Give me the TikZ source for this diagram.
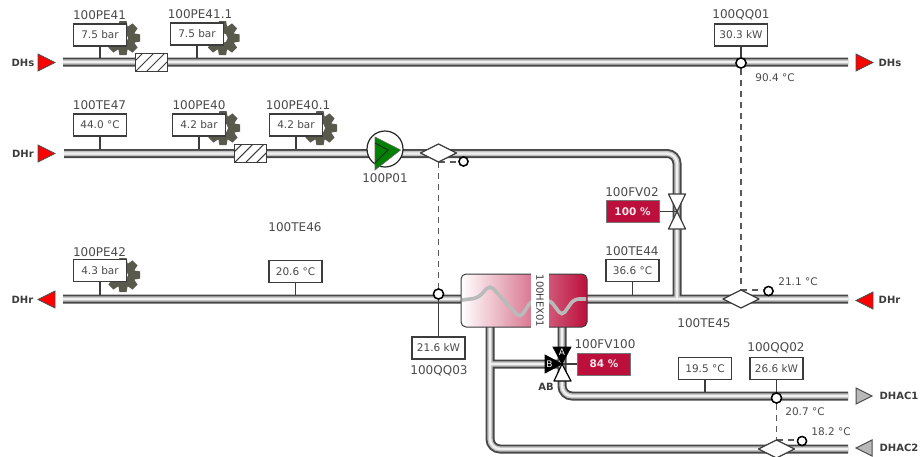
\documentclass[tikz,border=0pt]{standalone}
\usepackage{fontspec}
\setmainfont{DejaVu Sans}
\definecolor{txt}{HTML}{4A4A4A}
\definecolor{edge}{HTML}{3C3C3C}
\definecolor{crim}{HTML}{BC0F3C}
\definecolor{gearc}{HTML}{5A5A4C}
\tikzset{
  x=1pt,y=-1pt,
  lab/.style={text=txt,font=\fontsize{12}{12}\selectfont,inner sep=0pt},
  small/.style={text=txt,font=\fontsize{10.5}{11}\selectfont,inner sep=0pt},
  valbox/.style={draw=edge,line width=1.2pt,fill=white,text=txt,minimum width=53pt,minimum height=22pt,inner sep=0pt,font=\fontsize{10.5}{11}\selectfont},
  redbox/.style={draw=edge!70,line width=1pt,fill=crim,text=white!90!crim,minimum width=53pt,minimum height=22pt,inner sep=0pt,font=\bfseries\fontsize{10.5}{11}\selectfont},
  stem/.style={draw=edge,line width=1.2pt},
  dashline/.style={draw=edge!85,line width=1.3pt,dash pattern=on 6pt off 5pt},
  ring/.style={circle,draw=black,line width=1.4pt,fill=white,minimum size=10pt,inner sep=0pt},
  dmd/.style={draw=edge,line width=1.2pt,fill=white,line join=round},
  hatchline/.style={draw=edge,line width=1.05pt},
  ends/.style={font=\bfseries\fontsize{10}{10}\selectfont,text=edge,inner sep=0pt},
  flag/.style={draw=black!70,line width=.8pt,fill=red,line join=miter},
  gflag/.style={draw=black!70,line width=1pt,fill=black!28},
  gear/.pic={
    \fill[gearc] (0,0) circle (12.5);
    \foreach \a in {0,45,...,315}{
      \fill[gearc,rotate=\a] (-3.6,-17) -- (3.6,-17) -- (4.8,-10) -- (-4.8,-10) -- cycle;
    }
    \fill[white] (0,0) circle (5);
  },
  pA/.style={draw=black!72,line width=9pt,rounded corners=10pt},
  pB/.style={draw=black!24,line width=5.2pt,rounded corners=10pt},
  pC/.style={draw=black!6,line width=2.4pt,rounded corners=10pt},
}
\begin{document}
\begin{tikzpicture}
\useasboundingbox (0,0) rectangle (921,456);
% anchor coordinates on the pipes
\coordinate (a1) at (63,62);   \coordinate (a2) at (848,62);
\coordinate (b1) at (64,153.5);\coordinate (b2) at (677,153.5);
\coordinate (c1) at (63,299);  \coordinate (c2) at (848,299);
\coordinate (cT) at (677,299);
\coordinate (h1) at (490,327); \coordinate (h2) at (490,449); \coordinate (h3) at (848,449);
\coordinate (hb) at (490,364); \coordinate (vc) at (562,364);
\coordinate (j1) at (562,327); \coordinate (j2) at (562,396); \coordinate (j3) at (848,396);
\def\pipepaths{(a1) -- (a2) (b1) -- (b2) -- (cT) (c1) -- (c2) (h1) -- (h2) -- (h3) (hb) -- (vc) (j1) -- (j2) -- (j3)}
% gears
\pic at (123,38) {gear};
\pic at (222.5,38) {gear};
\pic at (223,128) {gear};
\pic at (320,128) {gear};
\pic at (123,275) {gear};
% instrument boxes
\node[valbox] (pe41) at (100,35) {7.5 bar};
\node[lab] (pe41l) at (99.5,15) {100PE41};
\node[valbox] (pe411) at (197,34) {7.5 bar};
\node[lab] (pe411l) at (200,14) {100PE41.1};
\node[valbox] (te47) at (100,125) {44.0 °C};
\node[lab] (te47l) at (99.5,105) {100TE47};
\node[valbox] (pe40) at (199,125) {4.2 bar};
\node[lab] (pe40l) at (199,105) {100PE40};
\node[valbox] (pe401) at (296,125) {4.2 bar};
\node[lab] (pe401l) at (298,105) {100PE40.1};
\node[valbox] (pe42) at (100,270.5) {4.3 bar};
\node[lab] (pe42l) at (99.5,252) {100PE42};
\node[valbox] (te46) at (295.5,271.5) {20.6 °C};
\node[lab] (te46l) at (295,227) {100TE46};
\node[valbox] (te44) at (632.5,270.5) {36.6 °C};
\node[lab] (te44l) at (632,251) {100TE44};
\node[valbox] (qq01) at (741,35) {30.3 kW};
\node[lab] (qq01l) at (741,15) {100QQ01};
\node[valbox] (qq03) at (438.5,348) {21.6 kW};
\node[lab] (qq03l) at (439,371) {100QQ03};
\node[valbox] (te45) at (705,368.5) {19.5 °C};
\node[lab] (te45l) at (704,323) {100TE45};
\node[valbox] (qq02) at (776.5,368.5) {26.6 kW};
\node[lab] (qq02l) at (776,348) {100QQ02};
\node[redbox] (fv02) at (632.5,211.5) {100 \%};
\node[lab] (fv02l) at (632,192) {100FV02};
\node[redbox] (fv100) at (604,364) {84 \%};
\node[lab] (fv100l) at (605,344) {100FV100};
% stems to the pipes (the pipes cover their ends)
\draw[stem] (pe41.south) -- (pe41.south |- a1);
\draw[stem] (pe411.south) -- (pe411.south |- a1);
\draw[stem] (te47.south) -- (te47.south |- b1);
\draw[stem] (pe40.south) -- (pe40.south |- b1);
\draw[stem] (pe401.south) -- (pe401.south |- b1);
\draw[stem] (pe42.south) -- (pe42.south |- c1);
\draw[stem] (te46.south) -- (te46.south |- c1);
\draw[stem] (te44.south) -- (te44.south |- c1);
\draw[stem] (te45.south) -- (te45.south |- j3);
% pipes
\draw[pA] \pipepaths;
\draw[pB] \pipepaths;
\draw[pC] \pipepaths;
% hatched boxes
\foreach \xa/\ya/\xb/\yb in {135/53/167/71,234/144/266/162}{
  \fill[white] (\xa,\ya) rectangle (\xb,\yb);
  \begin{scope}
    \clip (\xa,\ya) rectangle (\xb,\yb);
    \foreach \d in {-6,5,...,40}{
      \draw[hatchline] (\xa+\d-4,\yb) -- (\xa+\d+14,\ya);
    }
  \end{scope}
  \draw[draw=edge,line width=1pt] (\xa,\ya) rectangle (\xb,\yb);
}
% pump
\node[circle,draw=black!85,line width=1.2pt,fill=white,minimum size=36pt,inner sep=0pt] (p01) at (385,149) {};
\fill[green!50!black,draw=black!60,line width=.6pt] (375,137) -- (400.5,150) -- (375,170) -- cycle;
\draw[black!85,line width=.9pt] (375,143) -- (388,150) -- (375,163);
\node[lab] (p01l) at (385,178) {100P01};
% diamonds with sensor rings
\node[ring,minimum size=9pt] (r1) at (463.5,161.5) {};
\node[ring,minimum size=9pt] (r2) at (768.5,291) {};
\node[ring,minimum size=9pt] (r3) at (802,441) {};
\node[ring] (q1) at (741,63) {};
\node[ring] (q3) at (438.5,294) {};
\node[ring] (q2) at (776.5,398) {};
\coordinate (d1) at (438.5,153);
\coordinate (d2) at (741,299);
\coordinate (d3) at (776.5,449);
\coordinate (d1b) at (438.5,162);
\coordinate (d2t) at (741,290);
\coordinate (d3t) at (776.5,440);
\draw[dashline] (d1b) -- (q3.north);
\draw[dashline] (q1.south) -- (d2t);
\draw[dashline] (q2.south) -- (d3t);
\draw[dashline] (d1b) -- (d1b -| r1.west);
\draw[dashline] (d2t) -- (d2t -| r2.west);
\draw[dashline] (d3t) -- (d3t -| r3.west);
\foreach \c in {d1,d2,d3}{
  \draw[dmd] (\c) ++(-18,0) -- ++(18,-9) -- ++(18,9) -- ++(-18,9) -- cycle;
}
\node[ring,minimum size=9pt] at (r1) {};
\node[ring,minimum size=9pt] at (r2) {};
\node[ring,minimum size=9pt] at (r3) {};
\draw[stem] (qq01.south) -- (q1.north);
\draw[stem] (qq03.north) -- (q3.south);
\draw[stem] (qq02.south) -- (q2.north);
\node[ring] at (q1) {};
\node[ring] at (q3) {};
\node[ring] at (q2) {};
% free temperatures
\node[small] (t904) at (775,78) {90.4 °C};
\node[small] (t211) at (798,282) {21.1 °C};
\node[small] (t207) at (805,412) {20.7 °C};
\node[small] (t182) at (831,432) {18.2 °C};
% valve FV02
\coordinate (v2) at (677,211.5);
\draw[dmd,fill=white] (v2) -- ++(-8.5,-17.5) -- ++(17,0) -- cycle;
\draw[dmd,fill=white] (v2) -- ++(-8.5,17.5) -- ++(17,0) -- cycle;
\draw[stem] (fv02.east) -- (v2);
% heat exchanger
\shade[left color=white,middle color=crim!60!white,right color=crim,rounded corners=5pt] (461,274) rectangle (587,327);
\draw[draw=edge,line width=1pt,rounded corners=5pt] (461,274) rectangle (587,327);
\draw[draw=black!27,line width=3.6pt,rounded corners=5pt] (462,300) -- (478,298) -- (490,285) -- (520,318) -- (532,300) -- (550,300) -- (562,316) -- (574,299) -- (586,299);
\fill[white] (531,273) rectangle (548.5,328);
\node[rotate=-90,text=edge,inner sep=0pt,font=\fontsize{10}{10}\selectfont] (hex) at (540,301) {100HEX01};
% three-way valve
\draw[stem] (fv100.west) -- (vc);
\draw[draw=black,line width=.8pt,fill=black] (vc) -- (553,347) -- (571,347) -- cycle;
\draw[draw=black,line width=.8pt,fill=black] (vc) -- (545,355) -- (545,373) -- cycle;
\draw[dmd,fill=white,draw=black] (vc) -- (554,381) -- (571,381) -- cycle;
\node[text=white,inner sep=0pt,font=\fontsize{9}{9}\selectfont] (va) at (562,352) {A};
\node[text=white,inner sep=0pt,font=\fontsize{9}{9}\selectfont] (vb) at (549.5,364) {B};
\node[ends] (vab) at (546,387) {AB};
% end flags
\draw[flag] (38,54) -- (55,62.5) -- (38,71) -- cycle;
\draw[flag] (38,145) -- (55,153.5) -- (38,162) -- cycle;
\draw[flag] (55,291) -- (38,299.5) -- (55,308) -- cycle;
\draw[flag] (856,54) -- (873,62.5) -- (856,71) -- cycle;
\draw[flag] (873,292) -- (856,300.5) -- (873,309) -- cycle;
\draw[gflag] (856,388) -- (872,396) -- (856,404) -- cycle;
\draw[gflag] (872,440) -- (856,448) -- (872,456) -- cycle;
\node[ends] (e1) at (23,62.5) {DHs};
\node[ends] (e2) at (23,153.5) {DHr};
\node[ends] (e3) at (22.5,300) {DHr};
\node[ends] (e4) at (890,62.5) {DHs};
\node[ends] (e5) at (889.5,300) {DHr};
\node[ends] (e6) at (899,396) {DHAC1};
\node[ends] (e7) at (899,448) {DHAC2};
\end{tikzpicture}
\end{document}
